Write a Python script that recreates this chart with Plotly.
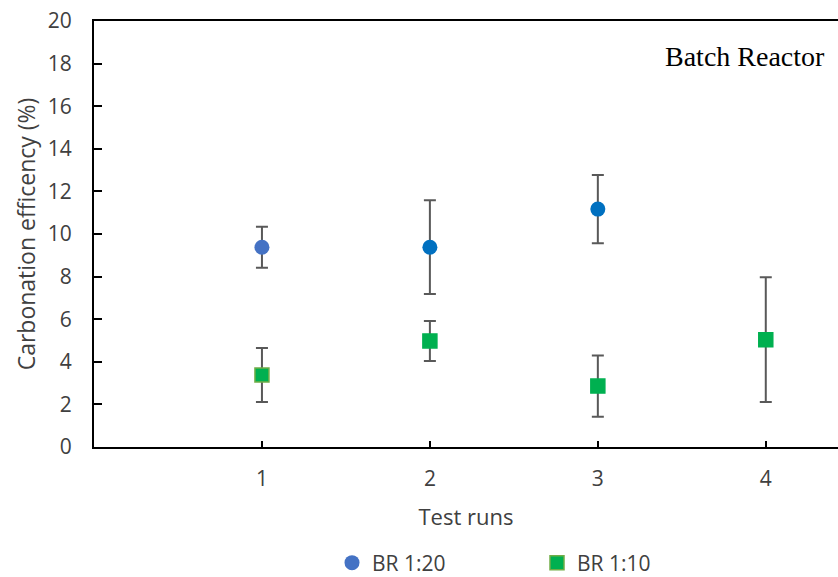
import plotly.graph_objects as go

runs_a = [1, 2, 3]
br20 = [9.38, 9.38, 11.17]
br20_err = [0.96, 2.2, 1.6]
runs_b = [1, 2, 3, 4]
br10 = [3.38, 4.98, 2.86, 5.04]
br10_err = [1.27, 0.94, 1.44, 2.93]
y_ticks = [0, 2, 4, 6, 8, 10, 12, 14, 16, 18, 20]
x_ticks = [1, 2, 3, 4]

font = "Open Sans"
txt = "#404040"
err = dict(type="data", visible=True, color="#595959", thickness=2, width=6)

fig = go.Figure()
fig.add_trace(go.Scatter(
    x=runs_a, y=br20, mode="markers", name="BR 1:20",
    error_y=dict(array=br20_err, **err),
    marker=dict(symbol="circle", size=15,
                color=["#4472C4", "#0070C0", "#0070C0"],
                line=dict(width=0)),
))
fig.add_trace(go.Scatter(
    x=runs_b, y=br10, mode="markers", name="BR 1:10",
    error_y=dict(array=br10_err, **err),
    marker=dict(symbol="square", size=14, color="#00B050",
                line=dict(width=1.5, color=["#70AD47", "#00B050", "#00B050", "#00B050"])),
))

fig.add_annotation(text="Batch Reactor", xref="paper", yref="paper",
                   x=0.985, y=0.917, xanchor="right", yanchor="middle",
                   showarrow=False,
                   font=dict(family="Liberation Serif", size=28, color="black"))

fig.update_layout(
    width=838, height=577,
    margin=dict(l=94, r=0, t=21, b=130, autoexpand=False),
    paper_bgcolor="white", plot_bgcolor="white",
    font=dict(family=font, size=21, color=txt),
    showlegend=True,
    legend=dict(orientation="h", x=0.3199, xanchor="left", y=-0.2723, yanchor="middle",
                font=dict(family=font, size=21, color=txt),
                itemwidth=30, entrywidth=160, traceorder="normal"),
    xaxis=dict(range=[0, 4.43], tickvals=x_ticks, ticktext=[str(v) for v in x_ticks],
               showgrid=False, zeroline=False, showline=True, linecolor="black",
               linewidth=2, mirror=True, ticks="inside", ticklen=6, tickwidth=2,
               tickcolor="black", ticklabelstandoff=12, automargin=False,
               tickfont=dict(family=font, size=21, color=txt),
               title=dict(text="Test runs", standoff=18,
                          font=dict(family=font, size=22, color=txt))),
    yaxis=dict(range=[0, 20], tickvals=y_ticks, showgrid=False, zeroline=False,
               showline=True, linecolor="black", linewidth=2, ticks="inside",
               ticklen=8, tickwidth=2, tickcolor="black", ticklabelstandoff=16,
               automargin=False, ticklabeloverflow="allow",
               tickfont=dict(family=font, size=21, color=txt),
               title=dict(text="Carbonation efficency (%)", standoff=6,
                          font=dict(family=font, size=23, color=txt))),
)

fig.write_html("out.html", config={"displayModeBar": False},
               post_script="document.body.style.margin='0px';")
